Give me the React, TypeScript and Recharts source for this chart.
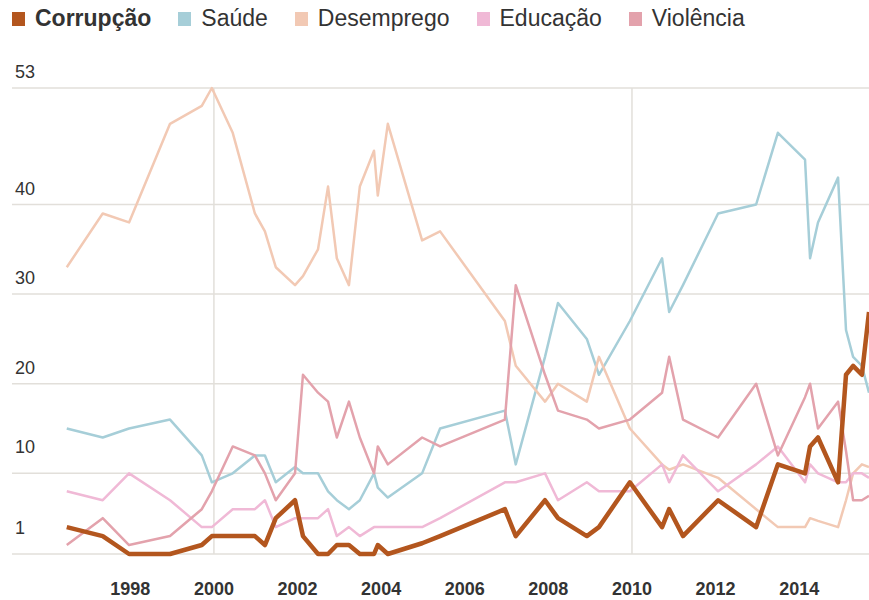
import React from 'react';
import { LineChart, Line, XAxis, YAxis, CartesianGrid, ReferenceLine, Legend } from 'recharts';

const years = [1996.48, 1997.34, 1997.97, 1998.95, 1999.71, 1999.95, 2000.45, 2000.98, 2001.22, 2001.48, 2001.94, 2002.13, 2002.49, 2002.73, 2002.94, 2003.23, 2003.49, 2003.83, 2003.92, 2004.16, 2004.98, 2005.41, 2006.96, 2007.22, 2007.92, 2008.23, 2008.92, 2009.21, 2009.95, 2010.72, 2010.89, 2011.22, 2012.06, 2012.97, 2013.49, 2014.14, 2014.26, 2014.45, 2014.93, 2015.12, 2015.29, 2015.5, 2015.67];

const corrupcao = [4, 3, 1, 1, 2, 3, 3, 3, 2, 5, 7, 3, 1, 1, 2, 2, 1, 1, 2, 1, 2.2, 3, 6, 3, 7, 5, 3, 4, 9, 4, 6, 3, 7, 4, 11, 10, 13, 14, 9, 21, 22, 21, 28];
const saude = [15, 14, 15, 16, 12, 9, 10, 12, 12, 9, 10.7, 10, 10, 8, 7, 6, 7, 10, 8.4, 7.3, 10, 15, 17, 11, 23, 29, 25, 21, 27, 34, 28, 31, 39, 40, 48, 45, 34, 38, 43, 26, 23, 22, 19];
const desemprego = [33, 39, 38, 49, 51, 53, 48, 39, 37, 33, 31, 32, 35, 42, 34, 31, 42, 46, 41, 49, 36, 37, 27, 22, 18, 20, 18, 23, 15, 11, 10.4, 11, 9.5, 6, 4, 4, 5, 4.7, 4, 7, 10, 11, 10.7];
const educacao = [8, 7, 10, 7, 4, 4, 6, 6, 7, 4, 5, 5, 5, 6, 3, 4, 3, 4, 4, 4, 4, 5, 9, 9, 10, 7, 9, 8, 8, 11, 9, 12, 8, 11, 13, 9, 11, 10, 9, 9, 10, 10, 9.5];
const violencia = [2, 5, 2, 3, 6, 8, 13, 12, 10, 7, 10, 21, 19, 18, 14, 18, 14, 10, 13, 11, 14, 13, 16, 31, 21, 17, 16, 15, 16, 19, 23, 16, 14, 20, 12, 18.5, 20, 15, 18, 12.5, 7, 7, 7.5];

const xTicks = [1998, 2000, 2002, 2004, 2006, 2008, 2010, 2012, 2014];
const yTicks = [1, 10, 20, 30, 40, 53];
const vLines = [2000, 2010];

const seriesNames = ['Corrupção', 'Saúde', 'Desemprego', 'Educação', 'Violência'];
const seriesKeys = ['corrupcao', 'saude', 'desemprego', 'educacao', 'violencia'];
const seriesColors = ['#b3561e', '#a6ced8', '#f2c9b4', '#f0b9d6', '#e3a2ac'];

const data = years.map((year, i) => ({
  year,
  corrupcao: corrupcao[i],
  saude: saude[i],
  desemprego: desemprego[i],
  educacao: educacao[i],
  violencia: violencia[i],
}));

const FONT = '"Liberation Sans", Arial, Helvetica, sans-serif';

const YTick = (props: any) => {
  const { y, payload } = props;
  const off = payload.value <= 10 ? 20 : 10;
  return (
    <text x={15} y={y - off} fill="#333" fontSize={18} fontFamily={FONT} textAnchor="start">
      {payload.value}
    </text>
  );
};

const XTick = (props: any) => {
  const { x, y, payload } = props;
  return (
    <text x={x} y={y + 33} fill="#333" fontSize={18} fontWeight="bold" fontFamily={FONT} textAnchor="middle">
      {payload.value}
    </text>
  );
};

const LegendContent = () => (
  <div style={{ display: 'flex', alignItems: 'center', fontFamily: FONT, fontSize: 23, color: '#333', whiteSpace: 'nowrap' }}>
    {seriesNames.map((name, i) => (
      <div key={name} style={{ display: 'flex', alignItems: 'center', marginRight: 27 }}>
        <span style={{ display: 'inline-block', width: 13, height: 14, background: seriesColors[i], marginRight: 10 }} />
        <span style={{ fontWeight: i === 0 ? 'bold' : 'normal' }}>{name}</span>
      </div>
    ))}
  </div>
);

export default function App() {
  const order = [1, 2, 3, 4, 0];
  return (
    <div style={{ position: 'absolute', left: 0, top: 0, width: 869, height: 600, background: '#fff' }}>
      <LineChart width={869} height={600} data={data} margin={{ top: 88, right: 0, bottom: 0, left: 0 }}>
        <CartesianGrid vertical={false} stroke="#e2dfda" strokeWidth={1.5} />
        {vLines.map((v) => (
          <ReferenceLine key={v} x={v} stroke="#e2dfda" strokeWidth={1.5} />
        ))}
        <XAxis
          dataKey="year"
          type="number"
          domain={[1995.17, 2015.67]}
          allowDataOverflow
          ticks={xTicks}
          tickLine={false}
          axisLine={false}
          height={46}
          tick={<XTick />}
          interval={0}
        />
        <YAxis
          type="number"
          domain={[1, 53]}
          ticks={yTicks}
          width={12}
          tickLine={false}
          axisLine={false}
          tick={<YTick />}
          interval={0}
        />
        <Legend
          layout="horizontal"
          verticalAlign="middle"
          align="center"
          content={<LegendContent />}
          wrapperStyle={{ top: 5, left: 12, width: 860, height: 28 }}
        />
        {order.map((i) => (
          <Line
            key={seriesKeys[i]}
            type="linear"
            dataKey={seriesKeys[i]}
            name={seriesNames[i]}
            stroke={seriesColors[i]}
            strokeWidth={i === 0 ? 4.5 : 2.5}
            dot={false}
            activeDot={false}
            strokeLinejoin="round"
            isAnimationActive={false}
          />
        ))}
      </LineChart>
    </div>
  );
}
